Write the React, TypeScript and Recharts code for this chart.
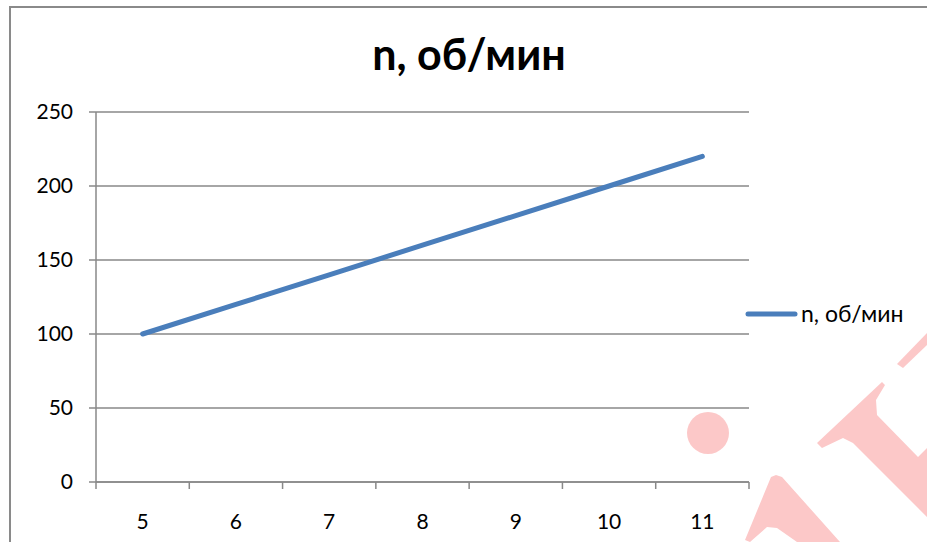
import React from 'react';
import { LineChart, Line, XAxis, YAxis, CartesianGrid, Legend } from 'recharts';

const categories = [5, 6, 7, 8, 9, 10, 11];
const rpm = [100, 120, 140, 160, 180, 200, 220];
const yTicks = [0, 50, 100, 150, 200, 250];
const seriesName = 'n, об/мин';
const chartTitle = 'n, об/мин';

const data = categories.map((c, i) => ({ x: c, n: rpm[i] }));
const boundaries = [...categories.map((c) => c - 0.5), categories[categories.length - 1] + 0.5];
const xTicks = [...categories, ...boundaries].sort((a, b) => a - b);

const FONT = 'Lato, "Open Sans", sans-serif';
const GRID = '#888888';
const BLUE = '#4a7ebb';
const PINK = '#fcc8c8';

const XTick = (props: any) => {
  const { x, y, payload } = props;
  const v = payload.value;
  if (Number.isInteger(v)) {
    return (
      <text x={x} y={y + 47} textAnchor="middle" fontFamily={FONT} fontSize={21} fill="#000">
        {v}
      </text>
    );
  }
  return <line x1={x} x2={x} y1={y} y2={y + 7} stroke={GRID} strokeWidth={1.5} />;
};

const LegendContent = (props: any) => {
  const { payload } = props;
  return (
    <div>
      {(payload || []).map((p: any, i: number) => (
        <svg key={i} width={175} height={30} style={{ display: 'block' }}>
          <line x1={3} x2={50} y1={14} y2={14} stroke={p.color} strokeWidth={5} strokeLinecap="round" />
          <text x={56} y={21.5} fontFamily={FONT} fontSize={23} fill="#000">
            {p.value}
          </text>
        </svg>
      ))}
    </div>
  );
};

export default function App() {
  return (
    <div style={{ position: 'absolute', left: 0, top: 0, width: 927, height: 542, overflow: 'hidden', background: '#fff' }}>
      <div style={{ position: 'absolute', left: 9, top: 6, width: 940, height: 560, border: '2px solid #8a8a8a', boxSizing: 'border-box' }} />
      <div style={{ position: 'absolute', left: 0, top: 0 }}>
        <LineChart width={927} height={542} data={data} margin={{ top: 112, right: 178, bottom: 0, left: 0 }}>
          <CartesianGrid vertical={false} stroke={GRID} strokeWidth={1.5} />
          <XAxis
            dataKey="x"
            type="number"
            domain={[boundaries[0], boundaries[boundaries.length - 1]]}
            ticks={xTicks}
            interval={0}
            tick={<XTick />}
            tickLine={false}
            tickSize={0}
            tickMargin={0}
            height={60}
            axisLine={{ stroke: GRID, strokeWidth: 1.5 }}
          />
          <YAxis
            domain={[0, 250]}
            ticks={yTicks}
            interval={0}
            width={96}
            tickSize={7}
            tickMargin={16}
            tickLine={{ stroke: GRID, strokeWidth: 1.5 }}
            axisLine={{ stroke: GRID, strokeWidth: 1.5 }}
            tick={{ fontFamily: FONT, fontSize: 21, fill: '#000' }}
          />
          <Legend
            layout="vertical"
            align="center"
            verticalAlign="middle"
            content={<LegendContent />}
            wrapperStyle={{ position: 'absolute', left: 745, top: 300, width: 180 }}
          />
          <Line
            type="linear"
            dataKey="n"
            name={seriesName}
            stroke={BLUE}
            strokeWidth={5}
            strokeLinecap="round"
            dot={false}
            activeDot={false}
            isAnimationActive={false}
          />
        </LineChart>
      </div>
      <svg width={927} height={542} style={{ position: 'absolute', left: 0, top: 0, pointerEvents: 'none' }}>
        <text x={469} y={70} textAnchor="middle" fontFamily={FONT} fontWeight={700} fontSize={43} fill="#000">
          {chartTitle}
        </text>
        <circle cx={708} cy={433} r={21} fill={PINK} />
        <polygon fill={PINK} points="745,540 771,477 776,475 782,477 840,542 797,542 777,528 767,527 750,542" />
        <polygon
          fill={PINK}
          points="817,443 882,382 885,385 876,400 877,415 918,457 927,448 927,517 853,443 843,438 822,448"
        />
        <polygon fill={PINK} points="897,364 927,333 927,345 903,368" />
      </svg>
    </div>
  );
}
